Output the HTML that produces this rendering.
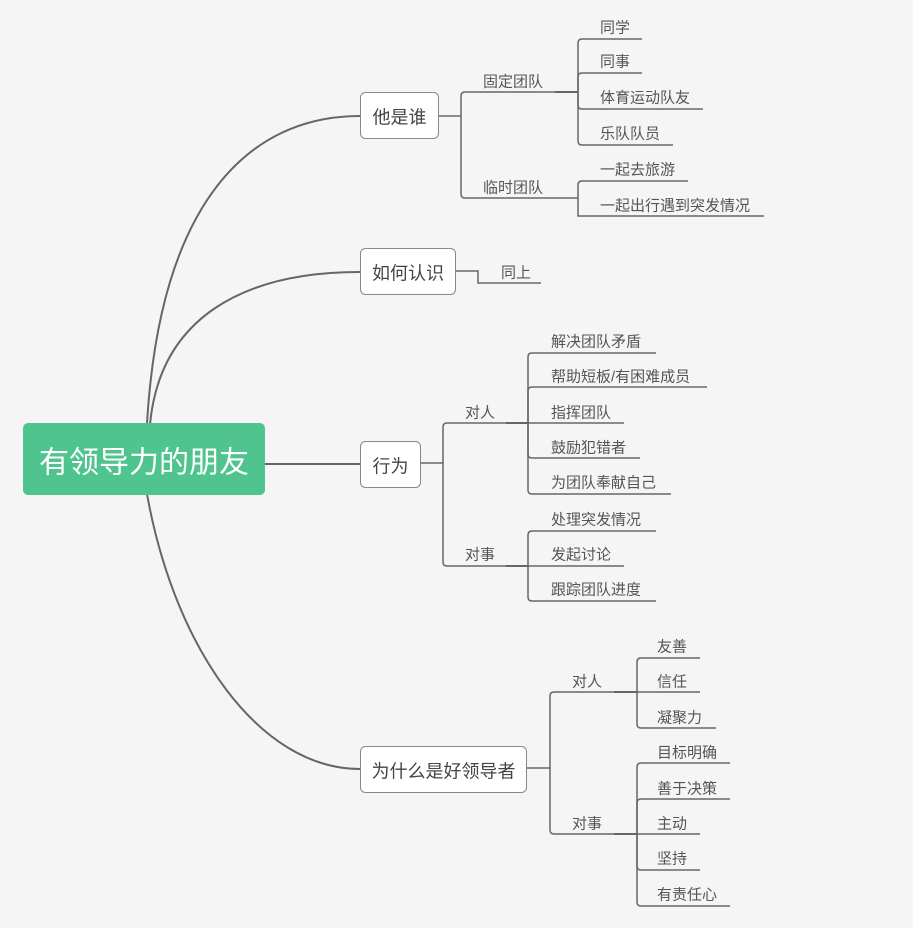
<!DOCTYPE html>
<html>
<head>
<meta charset="utf-8">
<style>
  html, body { margin: 0; padding: 0; background: #f5f5f5; }
  svg { display: block; }
  text { font-family: "Liberation Sans", "Noto Sans CJK SC", sans-serif; }
</style>
</head>
<body>
<svg width="913" height="928" viewBox="0 0 913 928" xmlns="http://www.w3.org/2000/svg">
  <rect x="0" y="0" width="913" height="928" fill="#f5f5f5"/>

  <!-- main curves -->
  <g fill="none" stroke="#666" stroke-width="2">
    <path d="M147,424 C160,200 250,116 360,116"/>
    <path d="M150,424 C160,320 240,272 360,272"/>
    <path d="M265,464 H360"/>
    <path d="M147,494 C175,650 260,769 360,769"/>
  </g>

  <!-- secondary connectors -->
  <g fill="none" stroke="#666" stroke-width="1.5">
    <!-- 他是谁 -->
    <path d="M439,116 H461"/>
    <path d="M461,116 V96 Q461,92 465,92 H578"/>
    <path d="M461,116 V194 Q461,198 465,198 H578"/>
    <!-- 固定团队 leaves -->
    <path d="M555,92 H578" stroke-width="2"/>
    <path d="M578,92 V43 Q578,39 582,39 H642"/>
    <path d="M578,92 V77 Q578,73 582,73 H642"/>
    <path d="M578,92 V105 Q578,109 582,109 H703"/>
    <path d="M578,92 V141 Q578,145 582,145 H673"/>
    <!-- 临时团队 leaves -->
    <path d="M578,198 V185 Q578,181 582,181 H688"/>
    <path d="M578,198 V216 H764"/>

    <!-- 如何认识 -->
    <path d="M456,271 H478 V283 H541"/>

    <!-- 行为 -->
    <path d="M421,463 H443"/>
    <path d="M443,463 V427 Q443,423 447,423 H528"/>
    <path d="M443,463 V562 Q443,566 447,566 H528"/>
    <path d="M506,423 H528" stroke-width="2"/>
    <path d="M528,423 V357 Q528,353 532,353 H656"/>
    <path d="M528,423 V391 Q528,387 532,387 H707"/>
    <path d="M528,423 H624"/>
    <path d="M528,423 V454 Q528,458 532,458 H640"/>
    <path d="M528,423 V490 Q528,494 532,494 H671"/>
    <path d="M506,566 H528" stroke-width="2"/>
    <path d="M528,566 V535 Q528,531 532,531 H656"/>
    <path d="M528,566 H624"/>
    <path d="M528,566 V597 Q528,601 532,601 H656"/>

    <!-- 为什么是好领导者 -->
    <path d="M527,768 H550"/>
    <path d="M550,768 V696 Q550,692 554,692 H637"/>
    <path d="M550,768 V830 Q550,834 554,834 H637"/>
    <path d="M614,692 H637" stroke-width="2"/>
    <path d="M637,692 V662 Q637,658 641,658 H700"/>
    <path d="M637,692 H700"/>
    <path d="M637,692 V724 Q637,728 641,728 H716"/>
    <path d="M614,834 H637" stroke-width="2"/>
    <path d="M637,834 V767 Q637,763 641,763 H730"/>
    <path d="M637,834 V803 Q637,799 641,799 H730"/>
    <path d="M637,834 H700"/>
    <path d="M637,834 V866 Q637,870 641,870 H700"/>
    <path d="M637,834 V902 Q637,906 641,906 H730"/>
  </g>

  <!-- root node -->
  <rect x="23" y="423" width="242" height="72" rx="5" ry="5" fill="#50c48e"/>
  <text x="144" y="463" font-size="30" fill="#ffffff" text-anchor="middle" dominant-baseline="central">有领导力的朋友</text>

  <!-- main topic boxes -->
  <g fill="#ffffff" stroke="#888" stroke-width="1">
    <rect x="360.5" y="92.5" width="78" height="46" rx="5" ry="5"/>
    <rect x="360.5" y="248.5" width="95" height="46" rx="5" ry="5"/>
    <rect x="360.5" y="441.5" width="60" height="46" rx="5" ry="5"/>
    <rect x="360.5" y="746.5" width="166" height="46" rx="5" ry="5"/>
  </g>
  <g font-size="18" fill="#444" text-anchor="middle" dominant-baseline="central">
    <text x="399.5" y="117.5">他是谁</text>
    <text x="408" y="273.5">如何认识</text>
    <text x="390.5" y="466.5">行为</text>
    <text x="443.5" y="771.5">为什么是好领导者</text>
  </g>

  <!-- second-level labels -->
  <g font-size="15" fill="#555" dominant-baseline="central">
    <text x="483" y="82">固定团队</text>
    <text x="483" y="188">临时团队</text>
    <text x="501" y="273">同上</text>
    <text x="465" y="413">对人</text>
    <text x="465" y="555">对事</text>
    <text x="572" y="682">对人</text>
    <text x="572" y="824">对事</text>
  </g>

  <!-- leaf labels -->
  <g font-size="15" fill="#555" dominant-baseline="central">
    <text x="600" y="28">同学</text>
    <text x="600" y="62">同事</text>
    <text x="600" y="98">体育运动队友</text>
    <text x="600" y="134">乐队队员</text>
    <text x="600" y="170">一起去旅游</text>
    <text x="600" y="206">一起出行遇到突发情况</text>

    <text x="551" y="342">解决团队矛盾</text>
    <text x="551" y="377">帮助短板/有困难成员</text>
    <text x="551" y="413">指挥团队</text>
    <text x="551" y="448">鼓励犯错者</text>
    <text x="551" y="483">为团队奉献自己</text>
    <text x="551" y="520">处理突发情况</text>
    <text x="551" y="555">发起讨论</text>
    <text x="551" y="590">跟踪团队进度</text>

    <text x="657" y="647">友善</text>
    <text x="657" y="682">信任</text>
    <text x="657" y="718">凝聚力</text>
    <text x="657" y="753">目标明确</text>
    <text x="657" y="789">善于决策</text>
    <text x="657" y="824">主动</text>
    <text x="657" y="859">坚持</text>
    <text x="657" y="895">有责任心</text>
  </g>
</svg>
</body>
</html>
